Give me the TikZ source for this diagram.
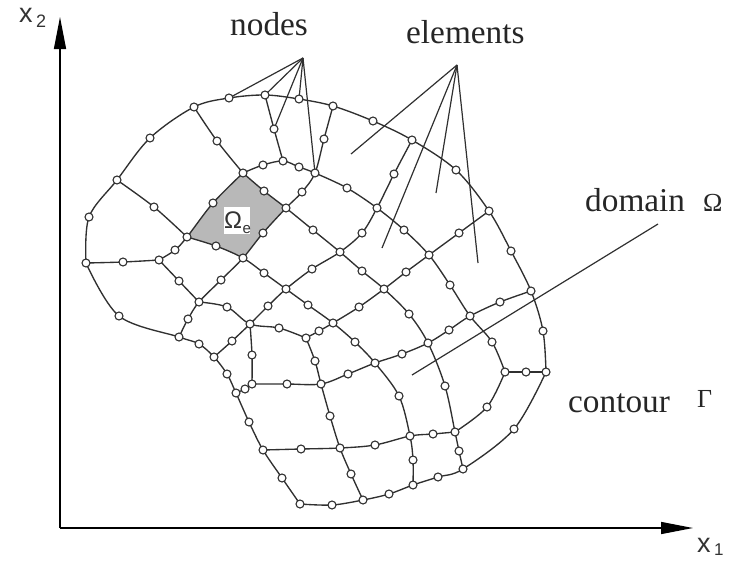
\documentclass[tikz,border=0pt]{standalone}
\usepackage{fontspec}
\setmainfont{Liberation Serif}
\newfontfamily\lblsans{Liberation Sans}
\usetikzlibrary{arrows.meta}
\pgfdeclarelayer{bg}
\pgfsetlayers{bg,main}
\definecolor{ink}{HTML}{303030}
\definecolor{cellgray}{HTML}{B8B8B8}
\tikzset{
  meshnode/.style={circle,draw=ink,fill=white,line width=1.1pt,minimum size=8pt,inner sep=0pt},
  edgeline/.style={draw=ink,line width=1.35pt,line join=round},
  leader/.style={draw=ink,line width=1.2pt},
  axisline/.style={draw=black,line width=1.4pt,-{Triangle[length=32pt,width=12pt]}},
  serifl/.style={anchor=base west,inner sep=0pt,font=\fontsize{33.3}{36}\selectfont,text=black!85},
  sansl/.style={anchor=base west,inner sep=0pt,text=black!80}
}
\newcommand{\curve}[1]{\draw[edgeline] plot[smooth,tension=0.55] coordinates {#1};}
\begin{document}
\begin{tikzpicture}[x=1pt,y=-1pt]
\useasboundingbox (0,0) rectangle (730,560);
% mesh nodes: outer contour, then interior
\foreach \x/\y in {89/217,117/180,150/138,194/107,229/98,265/95,299/99,333/106,373/121,412/140,456/170,489/211,511/251,531/291,543/331,546/372,514/429,463/469,438/477,413/485,389/494,363/500,332/505,300/504,282/478,263/450,249/422,236/393,227/374,214/357,199/344,179/337,119/316,86/263,
217/141,274/129,243/173,263/165,283/161,299/167,315/173,324/139,347/188,377/208,394/174,404/230,459/233,302/192,313/230,362/233,264/191,286/208,213/203,187/237,154/207,263/233,216/246,243/258,175/250,159/260,123/262,188/319,199/302,179/281,221/280,264/273,286/289,227/307,268/306,250/324,279/328,306/338,232/341,252/355,252/384,287/384,245/389,308/305,340/252,312/269,362/271,384/289,406/272,429/255,450/285,470/316,500/302,492/342,505/372,526/372,449/330,428/343,409/314,402/354,375/363,348/374,321/384,355/342,333/323,359/307,319/331,315/361,399/396,445/386,487/407,455/432,433/434,410/436,459/451,413/460,375/445,340/448,301/449,330/416,351/474}
  {\node[meshnode] (n\x-\y) at (\x,\y) {};}
% texts
\node[serifl] (tnodes) at (230,35) {nodes};
\node[serifl] (telements) at (406,43) {elements};
\node[serifl] (tdomain) at (585,211) {domain};
\node[serifl,font=\fontsize{26}{30}\selectfont] (tomega) at (703,211) {Ω};
\node[serifl] (tcontour) at (568,412) {contour};
\node[serifl,font=\fontsize{26}{30}\selectfont] (tgamma) at (697,407) {Γ};
\node[sansl,font=\lblsans\fontsize{27}{30}\selectfont] (xtwo) at (19,22) {x};
\node[sansl,font=\lblsans\fontsize{18}{20}\selectfont] (xtwosub) at (36,27) {2};
\node[sansl,font=\lblsans\fontsize{27}{30}\selectfont] (xone) at (697,552) {x};
\node[sansl,font=\lblsans\fontsize{17}{20}\selectfont] (xonesub) at (714,555) {1};
% axes and free leader ends
\coordinate (origin) at (60,528);
\coordinate (xtip) at (693,528);
\coordinate (ytip) at (60,17);
\coordinate (napex) at (303,58);
\coordinate (eapex) at (457,65);
\coordinate (e1) at (351,154);
\coordinate (e2) at (382,248);
\coordinate (e3) at (436,193);
\coordinate (e4) at (478,263);
\coordinate (d1) at (658,224);
\coordinate (d2) at (412,375);
\draw[axisline] (origin) -- (xtip);
\draw[axisline] (origin) -- (ytip);
\begin{pgfonlayer}{bg}
\fill[cellgray] (n243-173.center) -- (n264-191.center) -- (n286-208.center) -- (n263-233.center) -- (n243-258.center) -- (n216-246.center) -- (n187-237.center) -- (n213-203.center) -- cycle;
% outer contour
\curve{(n86-263) (n89-217) (n117-180) (n150-138) (n194-107) (n229-98) (n265-95) (n299-99) (n333-106) (n373-121) (n412-140) (n456-170) (n489-211) (n511-251) (n531-291) (n543-331) (n546-372)}
\curve{(n546-372) (n514-429) (n463-469) (n438-477) (n413-485) (n389-494) (n363-500) (n332-505) (n300-504)}
\curve{(n300-504) (n282-478) (n263-450) (n249-422) (n236-393) (n227-374) (n214-357) (n199-344) (n179-337) (n119-316) (n86-263)}
% interior grid
\curve{(n194-107) (n217-141) (n243-173)}
\curve{(n243-173) (n213-203) (n187-237) (n175-250) (n159-260)}
\curve{(n159-260) (n123-262) (n86-263)}
\curve{(n117-180) (n154-207) (n187-237)}
\curve{(n187-237) (n216-246) (n243-258) (n264-273) (n286-289) (n308-305) (n333-323) (n355-342) (n375-363) (n399-396) (n410-436) (n413-460) (n413-485)}
\curve{(n243-173) (n264-191) (n286-208) (n313-230) (n340-252) (n362-271) (n384-289) (n409-314) (n428-343) (n445-386) (n455-432) (n459-451) (n463-469)}
\curve{(n243-173) (n263-165) (n283-161) (n299-167) (n315-173) (n347-188) (n377-208) (n404-230) (n429-255) (n450-285) (n470-316) (n492-342) (n505-372)}
\curve{(n505-372) (n487-407) (n455-432)}
\curve{(n455-432) (n433-434) (n410-436) (n375-445) (n340-448) (n301-449) (n263-450)}
\curve{(n265-95) (n274-129) (n283-161)}
\curve{(n333-106) (n324-139) (n315-173) (n302-192) (n286-208) (n263-233) (n243-258) (n221-280) (n199-302) (n188-319) (n179-337)}
\curve{(n412-140) (n394-174) (n377-208) (n362-233) (n340-252) (n312-269) (n286-289) (n268-306) (n250-324) (n232-341) (n214-357)}
\curve{(n489-211) (n459-233) (n429-255) (n406-272) (n384-289) (n359-307) (n333-323) (n319-331) (n306-338)}
\curve{(n306-338) (n279-328) (n250-324) (n227-307) (n199-302)}
\curve{(n199-302) (n179-281) (n159-260)}
\curve{(n306-338) (n315-361) (n321-384) (n330-416) (n340-448) (n351-474) (n363-500)}
\curve{(n531-291) (n500-302) (n470-316) (n449-330) (n428-343) (n402-354) (n375-363) (n348-374) (n321-384) (n287-384) (n252-384)}
\curve{(n252-384) (n245-389) (n236-393)}
\curve{(n250-324) (n252-355) (n252-384)}
\curve{(n546-372) (n526-372) (n505-372)}
% leaders
\draw[leader] (napex) -- (n229-98.center);
\draw[leader] (napex) -- (n265-95.center);
\draw[leader] (napex) -- (n274-129.center);
\draw[leader] (napex) -- (n299-99.center);
\draw[leader] (napex) -- (n315-173.center);
\draw[leader] (eapex) -- (e1);
\draw[leader] (eapex) -- (e2);
\draw[leader] (eapex) -- (e3);
\draw[leader] (eapex) -- (e4);
\draw[leader] (d1) -- (d2);
\end{pgfonlayer}
% Omega_e label
\node[fill=white,inner sep=0pt,minimum width=26pt,minimum height=27pt] (omegae) at (237,220.5) {};
\node[sansl,font=\lblsans\fontsize{24}{28}\selectfont] (omegaelbl) at (224,228) {Ω};
\node[sansl,font=\lblsans\fontsize{15}{18}\selectfont] (omegaesub) at (242.5,233) {e};
\end{tikzpicture}
\end{document}
